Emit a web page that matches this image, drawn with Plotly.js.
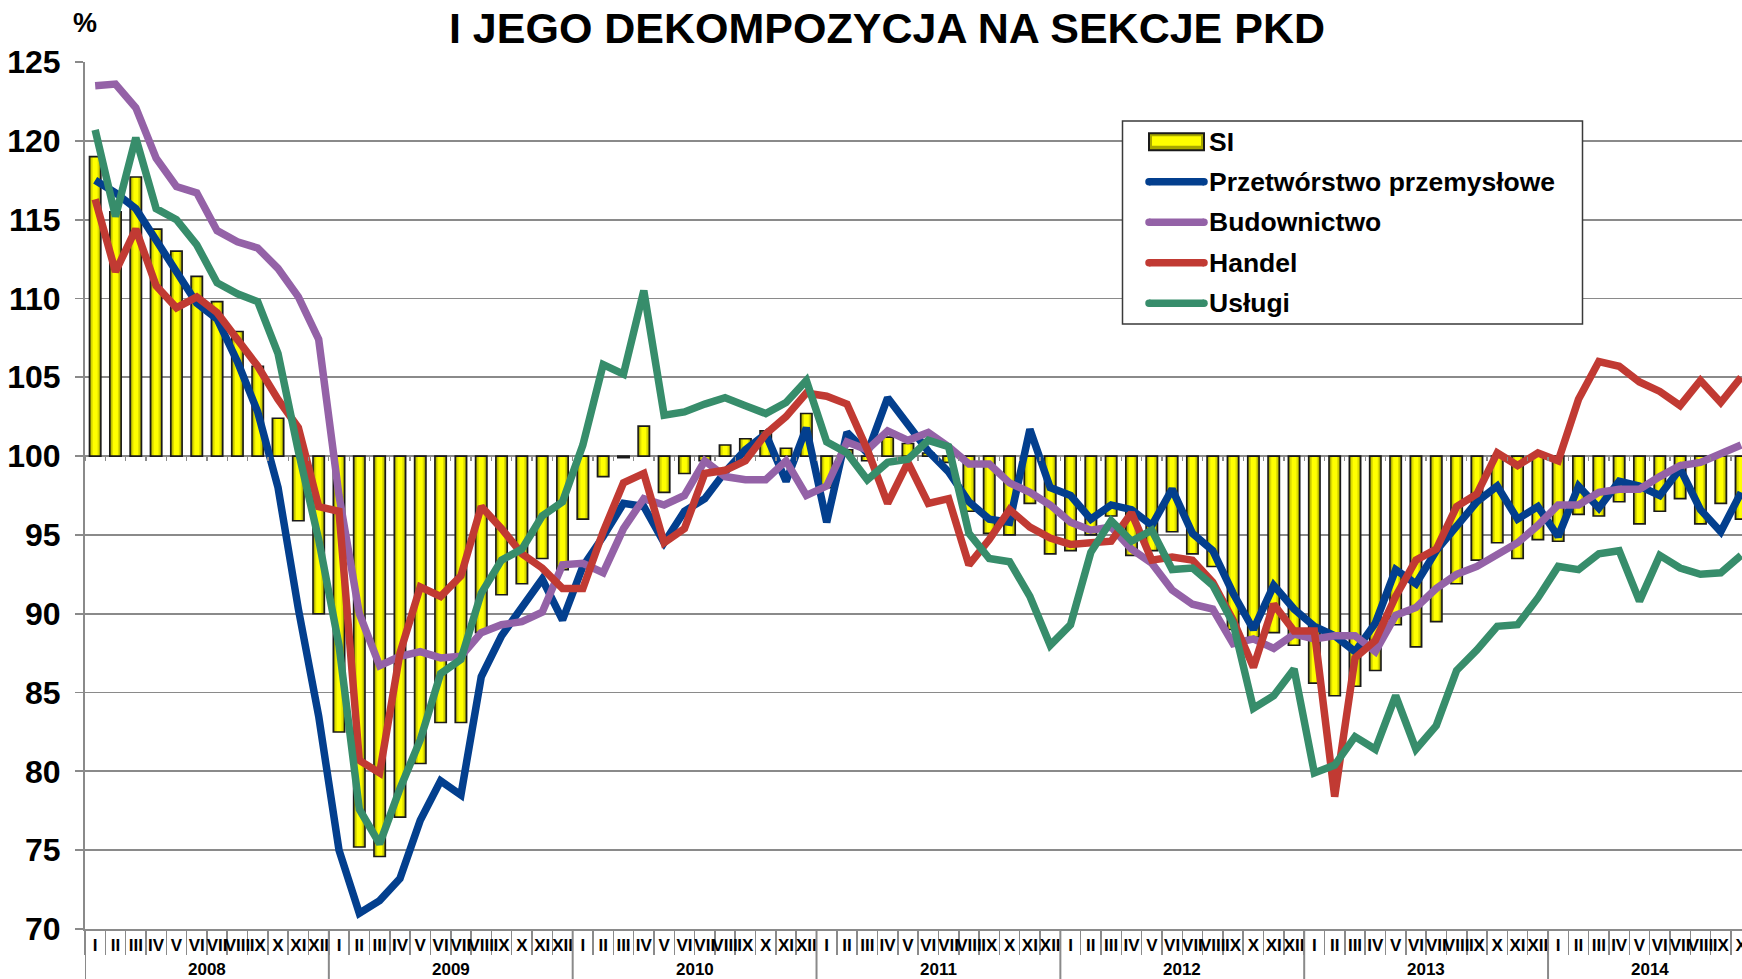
<!DOCTYPE html>
<html>
<head>
<meta charset="utf-8">
<script src="https://cdn.plot.ly/plotly-3.0.1.min.js"></script>
<style>
  html, body { margin: 0; padding: 0; background: #ffffff; }
  #chart { width: 1742px; height: 979px; }
</style>
</head>
<body>
<div id="chart"></div>
<script>
// Month and year labels of the horizontal axis
const years = ['2008', '2009', '2010', '2011', '2012', '2013', '2014'];
const months = ['I', 'II', 'III', 'IV', 'V', 'VI', 'VII', 'VIII', 'IX', 'X', 'XI', 'XII'];

// SI – overall indicator (bars, drawn from the 100 level)
const si = [
  119.0, 115.5, 117.7, 114.4, 113.0, 111.4, 109.8, 107.9, 105.7, 102.4, 95.9, 90.0,
  82.5, 75.2, 74.6, 77.1, 80.5, 83.1, 83.1, 88.8, 91.2, 91.9, 93.5, 92.8,
  96.0, 98.7, 99.9, 101.9, 97.7, 98.9, 99.7, 100.7, 101.1, 101.6, 100.5, 102.7,
  98.0, 100.4, 99.7, 101.2, 100.8, 100.2, 99.6, 96.5, 95.1, 95.0, 97.0, 93.8,
  94.0, 95.0, 96.2, 93.7, 94.0, 95.2, 93.8, 93.0, 89.0, 88.5, 88.8, 88.0,
  85.6, 84.8, 85.4, 86.4, 89.3, 87.9, 89.5, 91.9, 93.4, 94.5, 93.5, 94.7,
  94.6, 96.3, 96.2, 97.1, 95.7, 96.5, 97.3, 95.7, 97.0, 96.0
];

// Przetwórstwo przemysłowe
const przetworstwo = [
  117.5, 116.7, 115.7, 113.7, 111.9, 109.7, 108.7, 106.0, 102.8, 98.0, 90.3, 83.5,
  75.0, 71.0, 71.8, 73.2, 76.9, 79.4, 78.5, 86.0, 88.6, 90.4, 92.2, 89.6,
  93.0, 94.9, 97.0, 96.8, 94.5, 96.5, 97.3, 99.0, 100.4, 101.4, 98.4, 101.8,
  95.8, 101.5, 100.2, 103.7, 101.9, 100.3, 99.0, 97.1, 96.0, 95.8, 101.7, 98.0,
  97.5, 96.0, 96.9, 96.6, 95.6, 97.9, 95.1, 94.0, 91.3, 89.0, 91.8, 90.3,
  89.2, 88.6, 87.6, 89.4, 92.8, 91.9, 94.0, 95.6, 97.1, 98.1, 96.0, 96.8,
  94.9, 98.1, 96.7, 98.4, 98.1, 97.5, 99.2, 96.6, 95.2, 97.7
];

// Budownictwo
const budownictwo = [
  123.5, 123.6, 122.1, 118.9, 117.1, 116.7, 114.3, 113.6, 113.2, 111.9, 110.1, 107.4,
  97.5, 90.0, 86.7, 87.3, 87.6, 87.2, 87.3, 88.8, 89.3, 89.5, 90.1, 93.1,
  93.2, 92.6, 95.4, 97.3, 96.9, 97.5, 99.7, 98.7, 98.5, 98.5, 99.7, 97.5,
  98.1, 100.9, 100.4, 101.6, 101.0, 101.5, 100.6, 99.5, 99.5, 98.3, 97.7, 96.9,
  95.8, 95.3, 95.5, 94.1, 93.2, 91.5, 90.6, 90.3, 88.1, 88.4, 87.8, 88.7,
  88.4, 88.6, 88.6, 87.6, 89.9, 90.4, 91.6, 92.5, 93.0, 93.7, 94.5, 95.6,
  96.9, 96.9, 97.7, 97.9, 97.9, 98.7, 99.4, 99.6, 100.1, 100.7
];

// Handel
const handel = [
  116.3, 111.7, 114.4, 110.8, 109.4, 110.1, 109.1, 107.4, 105.7, 103.6, 101.8, 96.8,
  96.5, 80.7, 79.9, 87.5, 91.7, 91.1, 92.4, 96.8, 95.4, 93.8, 92.9, 91.6,
  91.6, 95.2, 98.3, 98.9, 94.5, 95.4, 98.9, 99.1, 99.7, 101.4, 102.5, 104.0,
  103.8, 103.3, 100.4, 97.0, 99.6, 97.0, 97.3, 93.1, 94.7, 96.6, 95.5, 94.8,
  94.4, 94.5, 94.6, 96.4, 93.4, 93.6, 93.4, 92.0, 89.6, 86.6, 90.6, 88.9,
  88.9, 78.4, 87.2, 88.3, 91.1, 93.4, 94.1, 96.8, 97.6, 100.2, 99.4, 100.2,
  99.7, 103.6, 106.0, 105.7, 104.7, 104.1, 103.2, 104.8, 103.4, 105.0
];

// Usługi
const uslugi = [
  120.7, 115.2, 120.2, 115.7, 115.0, 113.4, 111.0, 110.3, 109.8, 106.5, 100.3, 94.7,
  88.0, 77.6, 75.4, 78.9, 82.0, 86.2, 87.1, 91.3, 93.4, 94.1, 96.2, 97.1,
  100.7, 105.8, 105.2, 110.5, 102.6, 102.8, 103.3, 103.7, 103.2, 102.7, 103.4, 104.8,
  100.9, 100.2, 98.5, 99.6, 99.8, 101.0, 100.6, 95.1, 93.5, 93.3, 91.1, 88.0,
  89.3, 93.9, 95.9, 94.6, 95.3, 92.8, 92.9, 91.8, 89.4, 84.0, 84.8, 86.5,
  79.9, 80.4, 82.2, 81.4, 84.8, 81.4, 82.9, 86.4, 87.7, 89.2, 89.3, 91.0,
  93.0, 92.8, 93.8, 94.0, 90.8, 93.7, 92.9, 92.5, 92.6, 93.7
];

const seriesNames = ['SI', 'Przetwórstwo przemysłowe', 'Budownictwo', 'Handel', 'Usługi'];
const lineSeries = [przetworstwo, budownictwo, handel, uslugi];
const lineColors = ['#033f8e', '#9462a7', '#c13a33', '#378d6b'];

// ---- page geometry ----
const W = 1742, H = 979;
const M = { l: 85, r: 0, t: 62, b: 50 };
const plotW = W - M.l - M.r;
const plotH = H - M.t - M.b;
const px = X => (X - M.l) / plotW;          // pixel x -> paper x
const py = Y => (H - M.b - Y) / plotH;      // pixel y -> paper y

const FONT = 'Liberation Sans, Arial, sans-serif';
const GRID = '#8a8a8a';
const Y_MIN = 70, Y_MAX = 125, BAR_BASE = 100;

// one category per month, labelled with its Roman numeral
const n = si.length;
const cats = [], catText = [];
for (let i = 0; i < n; i++) {
  const m = months[i % 12], y = years[Math.floor(i / 12)];
  cats.push(m + ' ' + y);
  catText.push(m);
}
const monthPx = 20.32;
const xRange = [-0.5, -0.5 + plotW / monthPx];

// ---- traces ----
const barDelta = si.map(v => v - BAR_BASE);
const barBase = { type: 'bar', x: cats, y: barDelta, base: BAR_BASE, hoverinfo: 'skip', showlegend: false };
const traces = [
  Object.assign({}, barBase, { width: 0.56, marker: { color: '#9c9c00', line: { width: 0 } } }),
  Object.assign({}, barBase, { width: 0.40, marker: { color: '#dcdc00', line: { width: 0 } } }),
  Object.assign({}, barBase, { width: 0.24, marker: { color: '#ffff00', line: { width: 0 } } }),
  Object.assign({}, barBase, { width: 0.56, marker: { color: 'rgba(0,0,0,0)', line: { color: '#1a1a1a', width: 1.6 } } })
];
lineSeries.forEach((vals, k) => {
  traces.push({
    type: 'scatter', mode: 'lines', x: cats, y: vals, name: seriesNames[k + 1],
    line: { color: lineColors[k], width: 7.5 }, hoverinfo: 'skip', showlegend: false
  });
});
// empty trace that carries the tick marks along the 100 level
traces.push({ type: 'scatter', mode: 'none', x: [], y: [], xaxis: 'x2', yaxis: 'y', hoverinfo: 'skip', showlegend: false });

// ---- year dividers and year labels under the month labels ----
const shapes = [];
const annotations = [];
for (let k = 0; k < years.length; k++) {
  const first = 12 * k;
  if (first >= n) break;
  const count = Math.min(12, n - first);
  shapes.push({
    type: 'line', xref: 'x', yref: 'paper', x0: first - 0.5, x1: first - 0.5,
    y0: 0, y1: py(H), line: { color: GRID, width: 2 }
  });
  annotations.push({
    xref: 'x', yref: 'paper', x: first + (count - 1) / 2, y: py(969),
    text: years[k], showarrow: false, xanchor: 'center', yanchor: 'middle',
    font: { family: FONT, size: 17, weight: 'bold', color: '#000' }
  });
}

// "%" unit above the value axis
annotations.push({
  xref: 'paper', yref: 'paper', x: px(85), y: py(23), text: '%', showarrow: false,
  xanchor: 'center', yanchor: 'middle', font: { family: FONT, size: 27, weight: 'bold', color: '#000' }
});

// ---- legend box ----
const lg = { x0: 1122.5, x1: 1582.5, y0: 121, y1: 324, symX0: 1149, symX1: 1204, textX: 1207, rows: [141.7, 181.7, 222.3, 262.7, 303.3] };
shapes.push({
  type: 'rect', xref: 'paper', yref: 'paper', x0: px(lg.x0), x1: px(lg.x1), y0: py(lg.y1), y1: py(lg.y0),
  fillcolor: '#ffffff', line: { color: '#3a3a3a', width: 1.5 }, layer: 'above'
});
// SI swatch
const sy = lg.rows[0];
shapes.push({
  type: 'rect', xref: 'paper', yref: 'paper', x0: px(lg.symX0), x1: px(lg.symX1), y0: py(sy + 8.5), y1: py(sy - 8.5),
  fillcolor: '#a8a800', line: { color: '#1a1a1a', width: 2 }, layer: 'above'
});
shapes.push({
  type: 'rect', xref: 'paper', yref: 'paper', x0: px(lg.symX0 + 3), x1: px(lg.symX1 - 3), y0: py(sy + 4), y1: py(sy - 5.5),
  fillcolor: '#ffff00', line: { width: 0 }, layer: 'above'
});
// line swatches with rounded ends
lineColors.forEach((c, k) => {
  const y = lg.rows[k + 1], r = 3.75;
  shapes.push({
    type: 'line', xref: 'paper', yref: 'paper', x0: px(lg.symX0), x1: px(lg.symX1), y0: py(y), y1: py(y),
    line: { color: c, width: 7.5 }, layer: 'above'
  });
  [lg.symX0, lg.symX1].forEach(cx => {
    shapes.push({
      type: 'circle', xref: 'paper', yref: 'paper', x0: px(cx - r), x1: px(cx + r), y0: py(y + r), y1: py(y - r),
      fillcolor: c, line: { width: 0 }, layer: 'above'
    });
  });
});
seriesNames.forEach((name, k) => {
  annotations.push({
    xref: 'paper', yref: 'paper', x: px(lg.textX), y: py(lg.rows[k]), text: name, showarrow: false,
    xanchor: 'left', yanchor: 'middle', font: { family: FONT, size: 26.5, weight: 'bold', color: '#000' }
  });
});

const layout = {
  width: W, height: H,
  margin: M,
  paper_bgcolor: '#ffffff', plot_bgcolor: '#ffffff',
  barmode: 'overlay',
  showlegend: false,
  title: {
    text: 'I JEGO DEKOMPOZYCJA NA SEKCJE PKD',
    xref: 'container', yref: 'container', x: 887 / W, y: 1 - 28 / H,
    xanchor: 'center', yanchor: 'middle',
    font: { family: FONT, size: 43, weight: 'bold', color: '#000' }
  },
  xaxis: {
    type: 'category', categoryorder: 'array', categoryarray: cats,
    range: xRange, fixedrange: true,
    tickmode: 'array', tickvals: cats, ticktext: catText,
    tickson: 'boundaries', ticks: 'outside', ticklen: 24, tickwidth: 1.5, tickcolor: GRID,
    ticklabelstandoff: 0, tickangle: 0,
    tickfont: { family: FONT, size: 17, weight: 'bold', color: '#000' },
    showline: true, linecolor: GRID, linewidth: 2,
    showgrid: false, zeroline: false
  },
  xaxis2: {
    overlaying: 'x', anchor: 'free', side: 'bottom',
    position: (BAR_BASE - Y_MIN) / (Y_MAX - Y_MIN),
    range: xRange, fixedrange: true,
    tickmode: 'linear', tick0: -0.5, dtick: 1,
    ticks: 'outside', ticklen: 4, tickwidth: 1.3, tickcolor: GRID,
    showticklabels: false, showline: false, showgrid: false, zeroline: false
  },
  yaxis: {
    range: [Y_MIN, Y_MAX], tick0: Y_MIN, dtick: 5, fixedrange: true,
    ticks: 'outside', ticklen: 8, tickwidth: 1.8, tickcolor: GRID,
    ticklabelstandoff: 8,
    tickfont: { family: FONT, size: 32, weight: 'bold', color: '#000' },
    showgrid: true, gridcolor: GRID, gridwidth: 1.8,
    showline: true, linecolor: GRID, linewidth: 2, zeroline: false
  },
  shapes: shapes,
  annotations: annotations
};

Plotly.newPlot('chart', traces, layout, { displayModeBar: false, staticPlot: true });
</script>
</body>
</html>
